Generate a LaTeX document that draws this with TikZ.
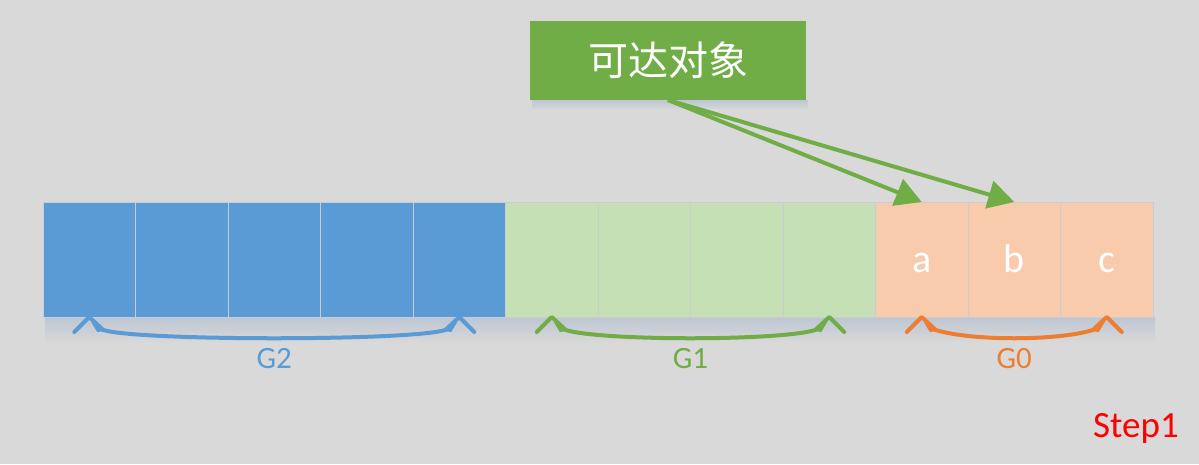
\documentclass[tikz,border=0pt]{standalone}
\usepackage{fontspec}
\setmainfont{Carlito}
\newfontfamily\cjk{Noto Sans CJK SC}
\usetikzlibrary{arrows.meta,calc}
\definecolor{bg}{HTML}{D9D9D9}
\definecolor{gblue}{HTML}{5B9BD5}
\definecolor{glight}{HTML}{C5E0B4}
\definecolor{olight}{HTML}{F8CBAD}
\definecolor{gdark}{HTML}{70AD47}
\definecolor{gorange}{HTML}{ED7D31}
\definecolor{sep}{HTML}{C9CDD3}
\definecolor{shad}{HTML}{BDC6D2}
\newcommand\gbrace[3]{%
  \draw[#3, line width=4pt, line join=round, line cap=round]
    ($(#1.south)+(-15,15)$) -- (#1.south) -- ($(#1.south)+(14,13)$)
    .. controls ($(#1.south)+(50,24)$) and ($(#2.south)+(-50,24)$) ..
    ($(#2.south)+(-14,13)$) -- (#2.south) -- ($(#2.south)+(15,15)$);
  \fill[#3] ($(#1.south)+(2,5)$) -- ($(#1.south)+(16,14)$) -- ($(#1.south)+(8,15)$) -- cycle;
  \fill[#3] ($(#2.south)+(-2,5)$) -- ($(#2.south)+(-16,14)$) -- ($(#2.south)+(-8,15)$) -- cycle;}
\begin{document}
\begin{tikzpicture}[x=1pt,y=-1pt,
  cell/.style={draw=sep, line width=1pt, minimum width=92.5pt, minimum height=115pt, inner sep=0pt, outer sep=0pt},
  celltext/.style={anchor=base, text=white, font=\fontsize{40}{48}\selectfont, inner sep=0pt},
  glabel/.style={anchor=base, font=\fontsize{31}{36}\selectfont, inner sep=0pt},
  reach/.style={draw=gdark, line width=4pt, -{Triangle[length=26pt,width=28pt]}}]
\fill[bg] (0,0) rectangle (1199,464);
\useasboundingbox (0,0) rectangle (1199,464);
% shadows
\shade[top color=shad, bottom color=bg] (45,317) rectangle (1155,343);
\shade[top color=shad, bottom color=bg] (532,100) rectangle (808,110);
% cells
\foreach \i in {1,...,12}{
  \pgfmathsetmacro\cx{43+(\i-0.5)*92.5}
  \ifnum\i<6 \def\cc{gblue}\else\ifnum\i<10 \def\cc{glight}\else\def\cc{olight}\fi\fi
  \node[cell, fill=\cc] (c\i) at (\cx,259.5) {};
}
\coordinate (basey) at (0,272);
\node[celltext] (la) at (c10.center |- basey) {a};
\node[celltext] (lb) at (c11.center |- basey) {b};
\node[celltext] (lc) at (c12.center |- basey) {c};
% label box
\node[fill=gdark, minimum width=276pt, minimum height=79pt, inner sep=0pt, outer sep=0pt, text=white, font=\cjk\fontsize{40}{48}\selectfont] (box) at (668,60.5) {可达对象};
\draw[reach] (box.south) -- (c10.north);
\draw[reach] (box.south) -- (c11.north);
% braces
\gbrace{c1}{c5}{gblue}
\gbrace{c6}{c9}{gdark}
\gbrace{c10}{c12}{gorange}
\node[glabel, text=gblue] (g2) at ($(c1.south)!0.5!(c5.south)+(0,51)$) {G2};
\node[glabel, text=gdark] (g1) at ($(c6.south)!0.5!(c9.south)+(0,51)$) {G1};
\node[glabel, text=gorange] (g0) at ($(c10.south)!0.5!(c12.south)+(0,51)$) {G0};
\node[anchor=base, text=red, font=\fontsize{37}{44}\selectfont, inner sep=0pt] (step) at (1136,437) {Step1};
\end{tikzpicture}
\end{document}
